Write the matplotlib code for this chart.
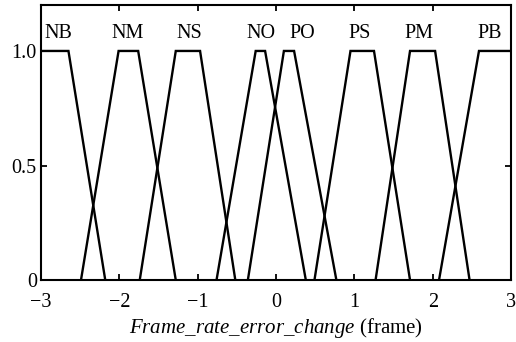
import matplotlib
matplotlib.use("Agg")
import matplotlib.pyplot as plt
import numpy as np

plt.rcParams['font.family'] = ['Liberation Serif', 'DejaVu Serif']
plt.rcParams['mathtext.fontset'] = 'custom'
plt.rcParams['mathtext.rm'] = 'Liberation Serif'
plt.rcParams['mathtext.it'] = 'Liberation Serif:italic'

# membership functions (trapezoid corner points a, b, c, d)
labels = ["NB", "NM", "NS", "NO", "PO", "PS", "PM", "PB"]
mf_a = [-3.0, -2.49, -1.74, -0.76, -0.36, 0.49, 1.27, 2.08]
mf_b = [-3.0, -2.01, -1.28, -0.26, 0.10, 0.95, 1.71, 2.59]
mf_c = [-2.65, -1.76, -0.97, -0.14, 0.23, 1.25, 2.03, 3.0]
mf_d = [-2.18, -1.28, -0.52, 0.38, 0.77, 1.71, 2.47, 3.0]
label_x = [-2.78, -1.89, -1.11, -0.19, 0.33, 1.07, 1.82, 2.73]
label_y = 1.057

xticks = [-3, -2, -1, 0, 1, 2, 3]
yticks = [0, 0.5, 1.0]
yticklabels = ["0", "0.5", "1.0"]

fig = plt.figure(figsize=(5.16, 3.42), dpi=100)
ax = fig.add_axes([0.0795, 0.181, 0.911, 0.804])

for a, b, c, d in zip(mf_a, mf_b, mf_c, mf_d):
    xs = [a, b, c, d]
    ys = [0 if a < b else 1, 1, 1, 0 if c < d else 1]
    ax.plot(xs, ys, color='black', lw=1.7, solid_joinstyle='miter')

for name, lx in zip(labels, label_x):
    ax.text(lx, label_y, name, ha='center', va='baseline', fontsize=14.5)

ax.set_xlim(-3, 3)
ax.set_ylim(0, 1.2)
ax.set_xticks(xticks)
ax.set_xticklabels([str(t).replace('-', '\u2212') for t in xticks])
ax.set_yticks(yticks)
ax.set_yticklabels(yticklabels)
ax.tick_params(direction='in', top=True, right=True, length=4, width=1.3,
               labelsize=14.5)
ax.tick_params(axis='x', pad=9)
ax.tick_params(axis='y', pad=3)
for s in ax.spines.values():
    s.set_linewidth(1.5)
ax.set_xlabel(r"$\mathit{Frame\_rate\_error\_change}$ (frame)", fontsize=15, labelpad=3)

fig.savefig("out.png", dpi=100)
